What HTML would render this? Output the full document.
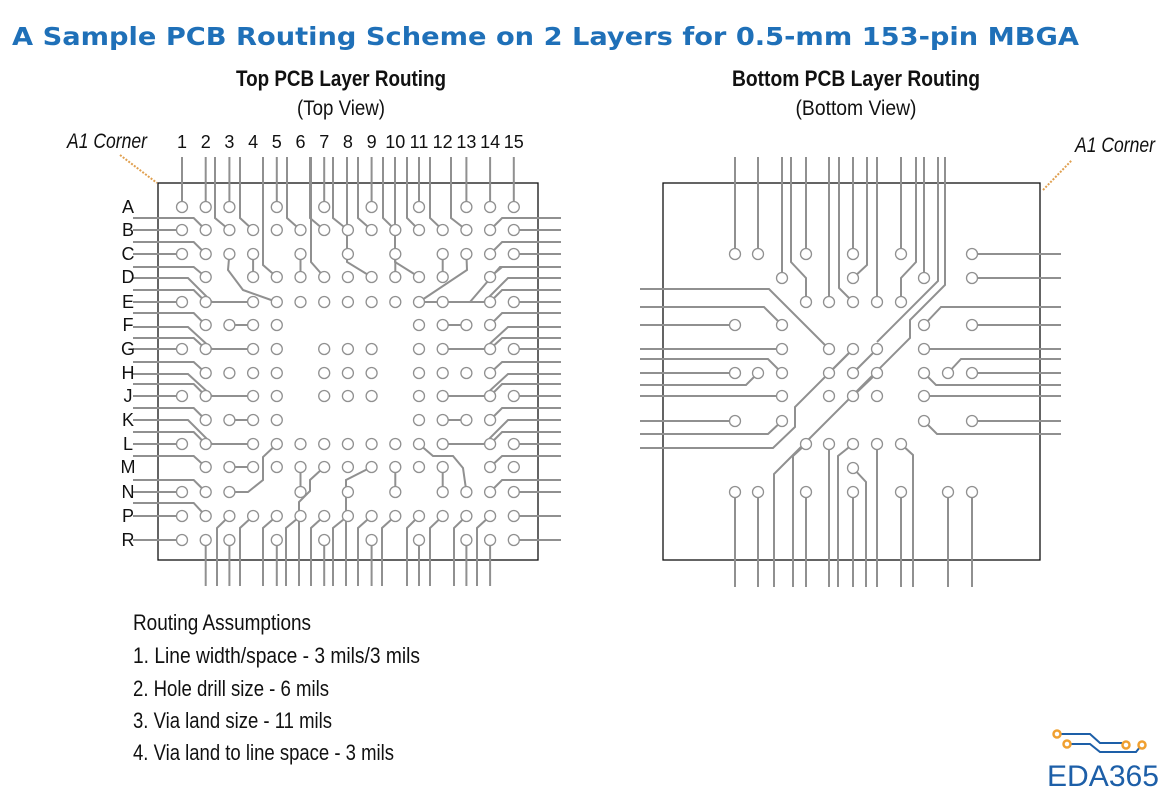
<!DOCTYPE html>
<html><head><meta charset="utf-8"><style>
html,body{margin:0;padding:0;background:#fff;width:1174px;height:796px;overflow:hidden}
svg{display:block}
.c{font-family:"Liberation Sans Narrow","Liberation Sans",sans-serif;fill:#111}
</style></head><body>
<svg id="s" width="1174" height="796" viewBox="0 0 1174 796" xmlns="http://www.w3.org/2000/svg">
<text x="12" y="45" font-family="DejaVu Sans,Liberation Sans,sans-serif" font-weight="bold" font-size="25" fill="#1f70b8" textLength="1067" lengthAdjust="spacingAndGlyphs">A Sample PCB Routing Scheme on 2 Layers for 0.5-mm 153-pin MBGA</text>
<text class="c" x="341" y="86" text-anchor="middle" font-weight="bold" font-size="22" textLength="210" lengthAdjust="spacingAndGlyphs">Top PCB Layer Routing</text>
<text class="c" x="341" y="115" text-anchor="middle" font-size="21" textLength="88" lengthAdjust="spacingAndGlyphs">(Top View)</text>
<text class="c" x="856" y="86" text-anchor="middle" font-weight="bold" font-size="22" textLength="248" lengthAdjust="spacingAndGlyphs">Bottom PCB Layer Routing</text>
<text class="c" x="856" y="115" text-anchor="middle" font-size="21" textLength="121" lengthAdjust="spacingAndGlyphs">(Bottom View)</text>
<text class="c" x="67" y="148" font-style="italic" font-size="21" textLength="80" lengthAdjust="spacingAndGlyphs">A1 Corner</text>
<text class="c" x="1075" y="152" font-style="italic" font-size="21" textLength="80" lengthAdjust="spacingAndGlyphs">A1 Corner</text>
<line x1="120" y1="155" x2="157" y2="183" stroke="#e0a050" stroke-width="2" stroke-dasharray="2,1.5"/>
<line x1="1043" y1="190" x2="1072" y2="160" stroke="#e0a050" stroke-width="2" stroke-dasharray="2,1.5"/>
<rect x="158" y="183" width="380" height="377" fill="none" stroke="#111" stroke-width="1.3"/>
<rect x="663" y="183" width="377" height="377" fill="none" stroke="#111" stroke-width="1.3"/>
<g id="tr" fill="none" stroke="#909090" stroke-width="2"></g>
<g id="ci" fill="#fff" stroke="#909090" stroke-width="1.3"></g>
<g id="lb" class="c" font-size="18"></g>
<g class="c" font-size="22">
<text x="133" y="630" textLength="178" lengthAdjust="spacingAndGlyphs">Routing Assumptions</text>
<text x="133" y="663" textLength="287" lengthAdjust="spacingAndGlyphs">1. Line width/space - 3 mils/3 mils</text>
<text x="133" y="696" textLength="196" lengthAdjust="spacingAndGlyphs">2. Hole drill size - 6 mils</text>
<text x="133" y="728" textLength="199" lengthAdjust="spacingAndGlyphs">3. Via land size - 11 mils</text>
<text x="133" y="760" textLength="261" lengthAdjust="spacingAndGlyphs">4. Via land to line space - 3 mils</text>
</g>
<g fill="none" stroke="#1d5fa8" stroke-width="2">
<polyline points="1060,734 1090,734 1100,743 1122,743"/>
<polyline points="1070,744 1090,744 1100,752 1136,752 1140,747"/>
</g>
<g fill="#fff" stroke="#f0a030" stroke-width="2.5">
<circle cx="1057" cy="734" r="3.5"/><circle cx="1067" cy="744" r="3.5"/><circle cx="1126" cy="745" r="3.5"/><circle cx="1142" cy="745" r="3.5"/>
</g>
<text x="1047" y="786" font-family="Liberation Sans,sans-serif" font-size="30" fill="#1d5fa8" textLength="112" lengthAdjust="spacingAndGlyphs">EDA365</text>
</svg>
<script>
var NS="http://www.w3.org/2000/svg";
function X(c){return 182+23.7*(c-1)}
var RY={A:207,B:230,C:254,D:277,E:302,F:325,G:349,H:373,J:396,K:420,L:444,M:467,N:492,P:516,R:540};
var tr=document.getElementById('tr'),ci=document.getElementById('ci'),lb=document.getElementById('lb');
function pl(p){var e=document.createElementNS(NS,'polyline');e.setAttribute('points',p);tr.appendChild(e);}
function cc(x,y){var e=document.createElementNS(NS,'circle');e.setAttribute('cx',x);e.setAttribute('cy',y);e.setAttribute('r',5.5);ci.appendChild(e);}
function tx(x,y,t,a){var e=document.createElementNS(NS,'text');e.setAttribute('x',x);e.setAttribute('y',y);e.setAttribute('text-anchor',a||'middle');e.textContent=t;lb.appendChild(e);}
var pins={A:[1,2,3,5,7,9,11,13,14,15],B:[1,2,3,4,5,6,7,8,9,10,11,12,13,14,15],C:[1,2,3,4,6,8,10,12,13,14,15],D:[2,4,5,6,7,8,9,10,11,12,14],E:[1,2,4,5,6,7,8,9,10,11,12,14,15],F:[2,3,4,5,11,12,13,14],G:[1,2,4,5,7,8,9,11,12,14,15],H:[2,3,4,5,7,8,9,11,12,13,14],J:[1,2,4,5,7,8,9,11,12,14,15],K:[2,3,4,5,11,12,13,14],L:[1,2,4,5,6,7,8,9,10,11,12,14,15],M:[2,3,4,5,6,7,8,9,10,11,12,14,15],N:[1,2,3,6,8,10,12,13,14,15],P:[1,2,3,4,5,6,7,8,9,10,11,12,13,14,15],R:[1,2,3,5,7,9,11,13,14,15]};
var P=function(c,r){return X(c)+','+RY[r]};
// top edge
var T=157,B=586;
[[1,'A'],[2,'A'],[3,'A'],[5,'A'],[7,'A'],[9,'A'],[11,'A'],[13,'A'],[14,'A'],[15,'A']].forEach(function(a){pl(X(a[0])+','+T+' '+P(a[0],a[1]))});
[[215,218,3,'B'],[240,218,4,'B'],[263,265,5,'D'],[287,218,6,'B'],[310,218,7,'B'],[333,218,8,'B'],[347,262,9,'D'],[358,218,9,'B'],[383,218,10,'B'],[407,218,11,'B'],[395,262,11,'D'],[430,218,12,'B'],[451,218,13,'B']].forEach(function(a){pl(a[0]+','+T+' '+a[0]+','+a[1]+' '+P(a[2],a[3]))});
pl('311,157 311,262 '+P(7,'D'));
// bottom edge
[[2,'R'],[3,'R'],[5,'R'],[7,'R'],[9,'R'],[11,'R'],[13,'R'],[14,'R']].forEach(function(a){pl(X(a[0])+','+B+' '+P(a[0],a[1]))});
[[217,3],[240,4],[263,5],[286,6],[311,7],[333,8],[358,9],[382,10],[407,11],[430,12],[454,13],[477,14]].forEach(function(a){pl(a[0]+','+B+' '+a[0]+','+(RY.P+12)+' '+P(a[1],'P'))});
pl('299,586 299,502 310,491 310,480 '+P(7,'M'));
pl('346,586 346,480 '+P(9,'M'));
// left edge
var L=133,Rt=561;
[['B',218,2],['C',242,2],['D',267,2],['E',290,2],['F',313,2],['G',338,2],['H',362,2],['J',384,2],['K',408,2],['L',432,2],['M',456,2],['N',480,2],['P',503,2]].forEach(function(a){pl(L+','+a[1]+' '+(X(a[2])-12)+','+a[1]+' '+P(a[2],a[0]))});
[['E',278],['G',327],['J',374],['L',420]].forEach(function(a){pl(L+','+a[1]+' 188,'+a[1]+' 212,'+(RY[a[0]])+' '+P(4,a[0]))});
['B','C','E','G','J','L','N','P','R'].forEach(function(r){pl(L+','+RY[r]+' '+P(1,r))});
// right edge
[['B',218],['C',242],['D',267],['E',290],['F',313],['G',338],['H',362],['J',384],['K',408],['L',432],['M',456],['N',480]].forEach(function(a){pl(Rt+','+a[1]+' '+(X(14)+12)+','+a[1]+' '+P(14,a[0]))});
[['E',278,11],['G',327,12],['J',374,12],['L',420,12]].forEach(function(a){pl(Rt+','+a[1]+' 508,'+a[1]+' 484,'+RY[a[0]]+' '+P(a[2],a[0]))});
['B','C','E','G','J','L','N','P','R'].forEach(function(r){pl(Rt+','+RY[r]+' '+P(15,r))});
// internal
[[4,'C','D'],[6,'C','D'],[10,'C','D'],[12,'C','D'],[6,'M','N'],[10,'M','N'],[12,'M','N']].forEach(function(a){pl(P(a[0],a[1])+' '+P(a[0],a[2]))});
[[3,4,'F'],[12,13,'F'],[3,4,'K'],[12,13,'K'],[3,4,'M']].forEach(function(a){pl(P(a[0],a[2])+' '+P(a[1],a[2]))});
pl(P(3,'C')+' 228,270 243,290 '+P(5,'E'));
pl(P(13,'C')+' 467,270 '+P(11,'E'));
pl(P(12,'E')+' 470,302 500,267 561,267');
pl(P(5,'L')+' 263,457 263,480 248,492 '+P(3,'N'));
pl(P(11,'L')+' 433,456 453,456 463,468 '+P(13,'N'));
// top circles
for(var r in pins){pins[r].forEach(function(c){cc(X(c),RY[r])});}
for(var i=1;i<=15;i++)tx(X(i),148,''+i);
for(var r in RY)tx(128,RY[r]+6,r);
// bottom layer
var b=[[254,[735,758,806,853,901,972]],[278,[782,853,924,972]],[302,[806,829,853,877,901]],[325,[735,782,924,972]],[349,[782,829,853,877,924]],[373,[735,758,782,829,853,877,924,948,972]],[396,[782,829,853,877,924]],[421,[735,782,924,972]],[444,[806,829,853,877,901]],[468,[853]],[492,[735,758,806,853,901,948,972]]];
[[735,254],[758,254],[782,278],[806,254],[829,302],[853,254],[877,302],[901,254],[924,278]].forEach(function(a){pl(a[0]+',157 '+a[0]+','+a[1])});
pl('791,157 791,262 806,278 806,302');
pl('839,157 839,288 853,302');
pl('867,157 867,265 853,278');
pl('916,157 916,262 901,278 901,302');
pl('938,157 938,281 877,342');
pl('945,157 945,285 910,320 910,338 794,454 774,474 774,587');
pl('640,448 773,448 795,427 795,407 853,349');
pl('640,289 769,289 829,349');
pl('640,307 764,307 782,325');
pl('640,325 735,325');pl('640,349 782,349');
pl('640,359 768,359 782,373');pl('640,373 735,373');
pl('640,385 746,385 758,373');pl('640,396 782,396');
pl('640,421 735,421');pl('640,434 768,434 782,421');
pl('1061,254 972,254');pl('1061,278 972,278');
pl('1061,307 941,307 924,325');pl('1061,325 972,325');
pl('1061,349 924,349');pl('1061,359 961,359 948,373');
pl('1061,373 972,373');pl('1061,385 936,385 924,373');
pl('1061,396 924,396');pl('1061,421 972,421');pl('1061,434 937,434 924,421');
pl('829,373 853,349');pl('853,373 877,349');pl('853,396 877,373');
[735,758,806,853,901,948,972].forEach(function(x){pl(x+',587 '+x+',492')});
pl('806,444 793,456 793,587');pl('829,444 829,587');
pl('853,444 838,456 838,587');pl('853,468 866,482 866,587');
pl('877,444 877,587');pl('901,444 913,455 913,587');
b.forEach(function(a){a[1].forEach(function(x){cc(x,a[0])})});
</script>
</body></html>
